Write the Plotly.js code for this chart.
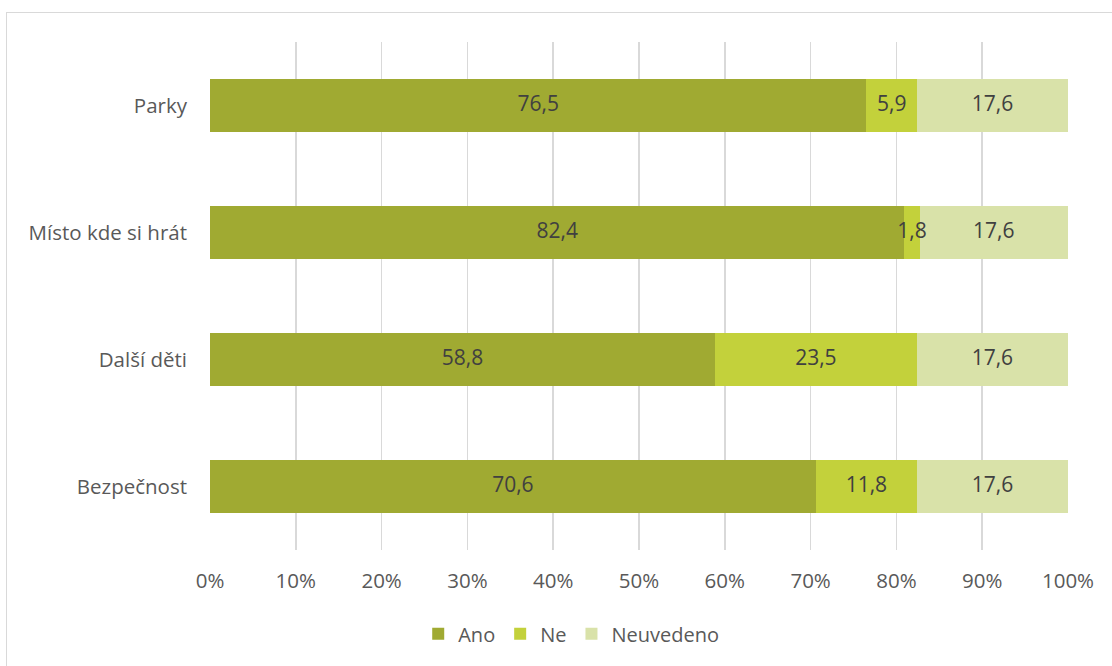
<!DOCTYPE html>
<html><head><meta charset="utf-8">
<script src="https://cdn.plot.ly/plotly-3.0.1.min.js"></script>
<style>
html,body{margin:0;padding:0;background:#fff;}
#wrap{position:relative;width:1112px;height:666px;overflow:hidden;}
#frame{position:absolute;left:6px;top:12px;width:1120px;height:680px;border:1px solid #D9D9D9;box-sizing:border-box;}
#chart{position:absolute;left:0;top:0;width:1112px;height:666px;}
</style>
</head><body>
<div id="wrap"><div id="frame"></div><div id="chart"></div></div>
<script>
const categories = ['Parky', 'Místo kde si hrát', 'Další děti', 'Bezpečnost'];
const ano = [76.5, 82.4, 58.8, 70.6];
const ne = [5.9, 1.8, 23.5, 11.8];
const neuvedeno = [17.6, 17.6, 17.6, 17.6];
const seriesNames = ['Ano', 'Ne', 'Neuvedeno'];
const xTickVals = [0,10,20,30,40,50,60,70,80,90,100];
const xTickText = ['0%','10%','20%','30%','40%','50%','60%','70%','80%','90%','100%'];

const colors = ['#A0AA32', '#C3D13B', '#D9E2A9'];
const fontFam = '"Open Sans", Lato, sans-serif';
function fmt(v){ return v.toFixed(1).replace('.', ','); }
const seriesData = [ano, ne, neuvedeno];

// bars (100% stacked, normalised like the source chart)
const traces = seriesData.map((vals, i) => ({
  type: 'bar', orientation: 'h', name: seriesNames[i],
  y: categories, x: vals,
  marker: {color: colors[i], line: {width: 0}},
  hoverinfo: 'skip'
}));

// data labels drawn on top of all bars, at the centre of each normalised segment
const totals = categories.map((c, j) => seriesData.reduce((s, arr) => s + arr[j], 0));
seriesData.forEach((vals, i) => {
  const mids = vals.map((v, j) => {
    let before = 0;
    for (let k = 0; k < i; k++) before += seriesData[k][j];
    return (before + v / 2) / totals[j] * 100;
  });
  traces.push({
    type: 'scatter', mode: 'text', x: mids, y: categories,
    text: vals.map(fmt), textposition: 'middle center',
    textfont: {family: fontFam, size: 21, color: '#404040'},
    showlegend: false, hoverinfo: 'skip', cliponaxis: false
  });
});

const layout = {
  width: 1112, height: 666,
  paper_bgcolor: 'rgba(0,0,0,0)', plot_bgcolor: 'rgba(0,0,0,0)',
  barmode: 'stack', barnorm: 'percent', bargap: 0.59,
  margin: {l: 210, r: 44, t: 42, b: 116},
  font: {family: fontFam, size: 20, color: '#595959'},
  xaxis: {range: [0, 100], tickvals: xTickVals, ticktext: xTickText,
    showgrid: true, gridcolor: '#D9D9D9', gridwidth: 1.6, zeroline: false,
    showline: false, ticks: '', ticklabelstandoff: 16, fixedrange: true,
    tickfont: {family: fontFam, size: 20.5, color: '#595959'}},
  yaxis: {autorange: 'reversed', showgrid: false, zeroline: false, showline: false,
    ticks: '', ticklabelstandoff: 22, fixedrange: true,
    tickfont: {family: fontFam, size: 20.5, color: '#595959'}},
  legend: {orientation: 'h', x: 0.421, xanchor: 'center', y: -0.165, yanchor: 'middle',
    font: {family: fontFam, size: 20, color: '#595959'}, traceorder: 'normal',
    itemwidth: 30},
  showlegend: true
};
Plotly.newPlot('chart', traces, layout, {displayModeBar: false, staticPlot: true});
</script>
</body></html>
